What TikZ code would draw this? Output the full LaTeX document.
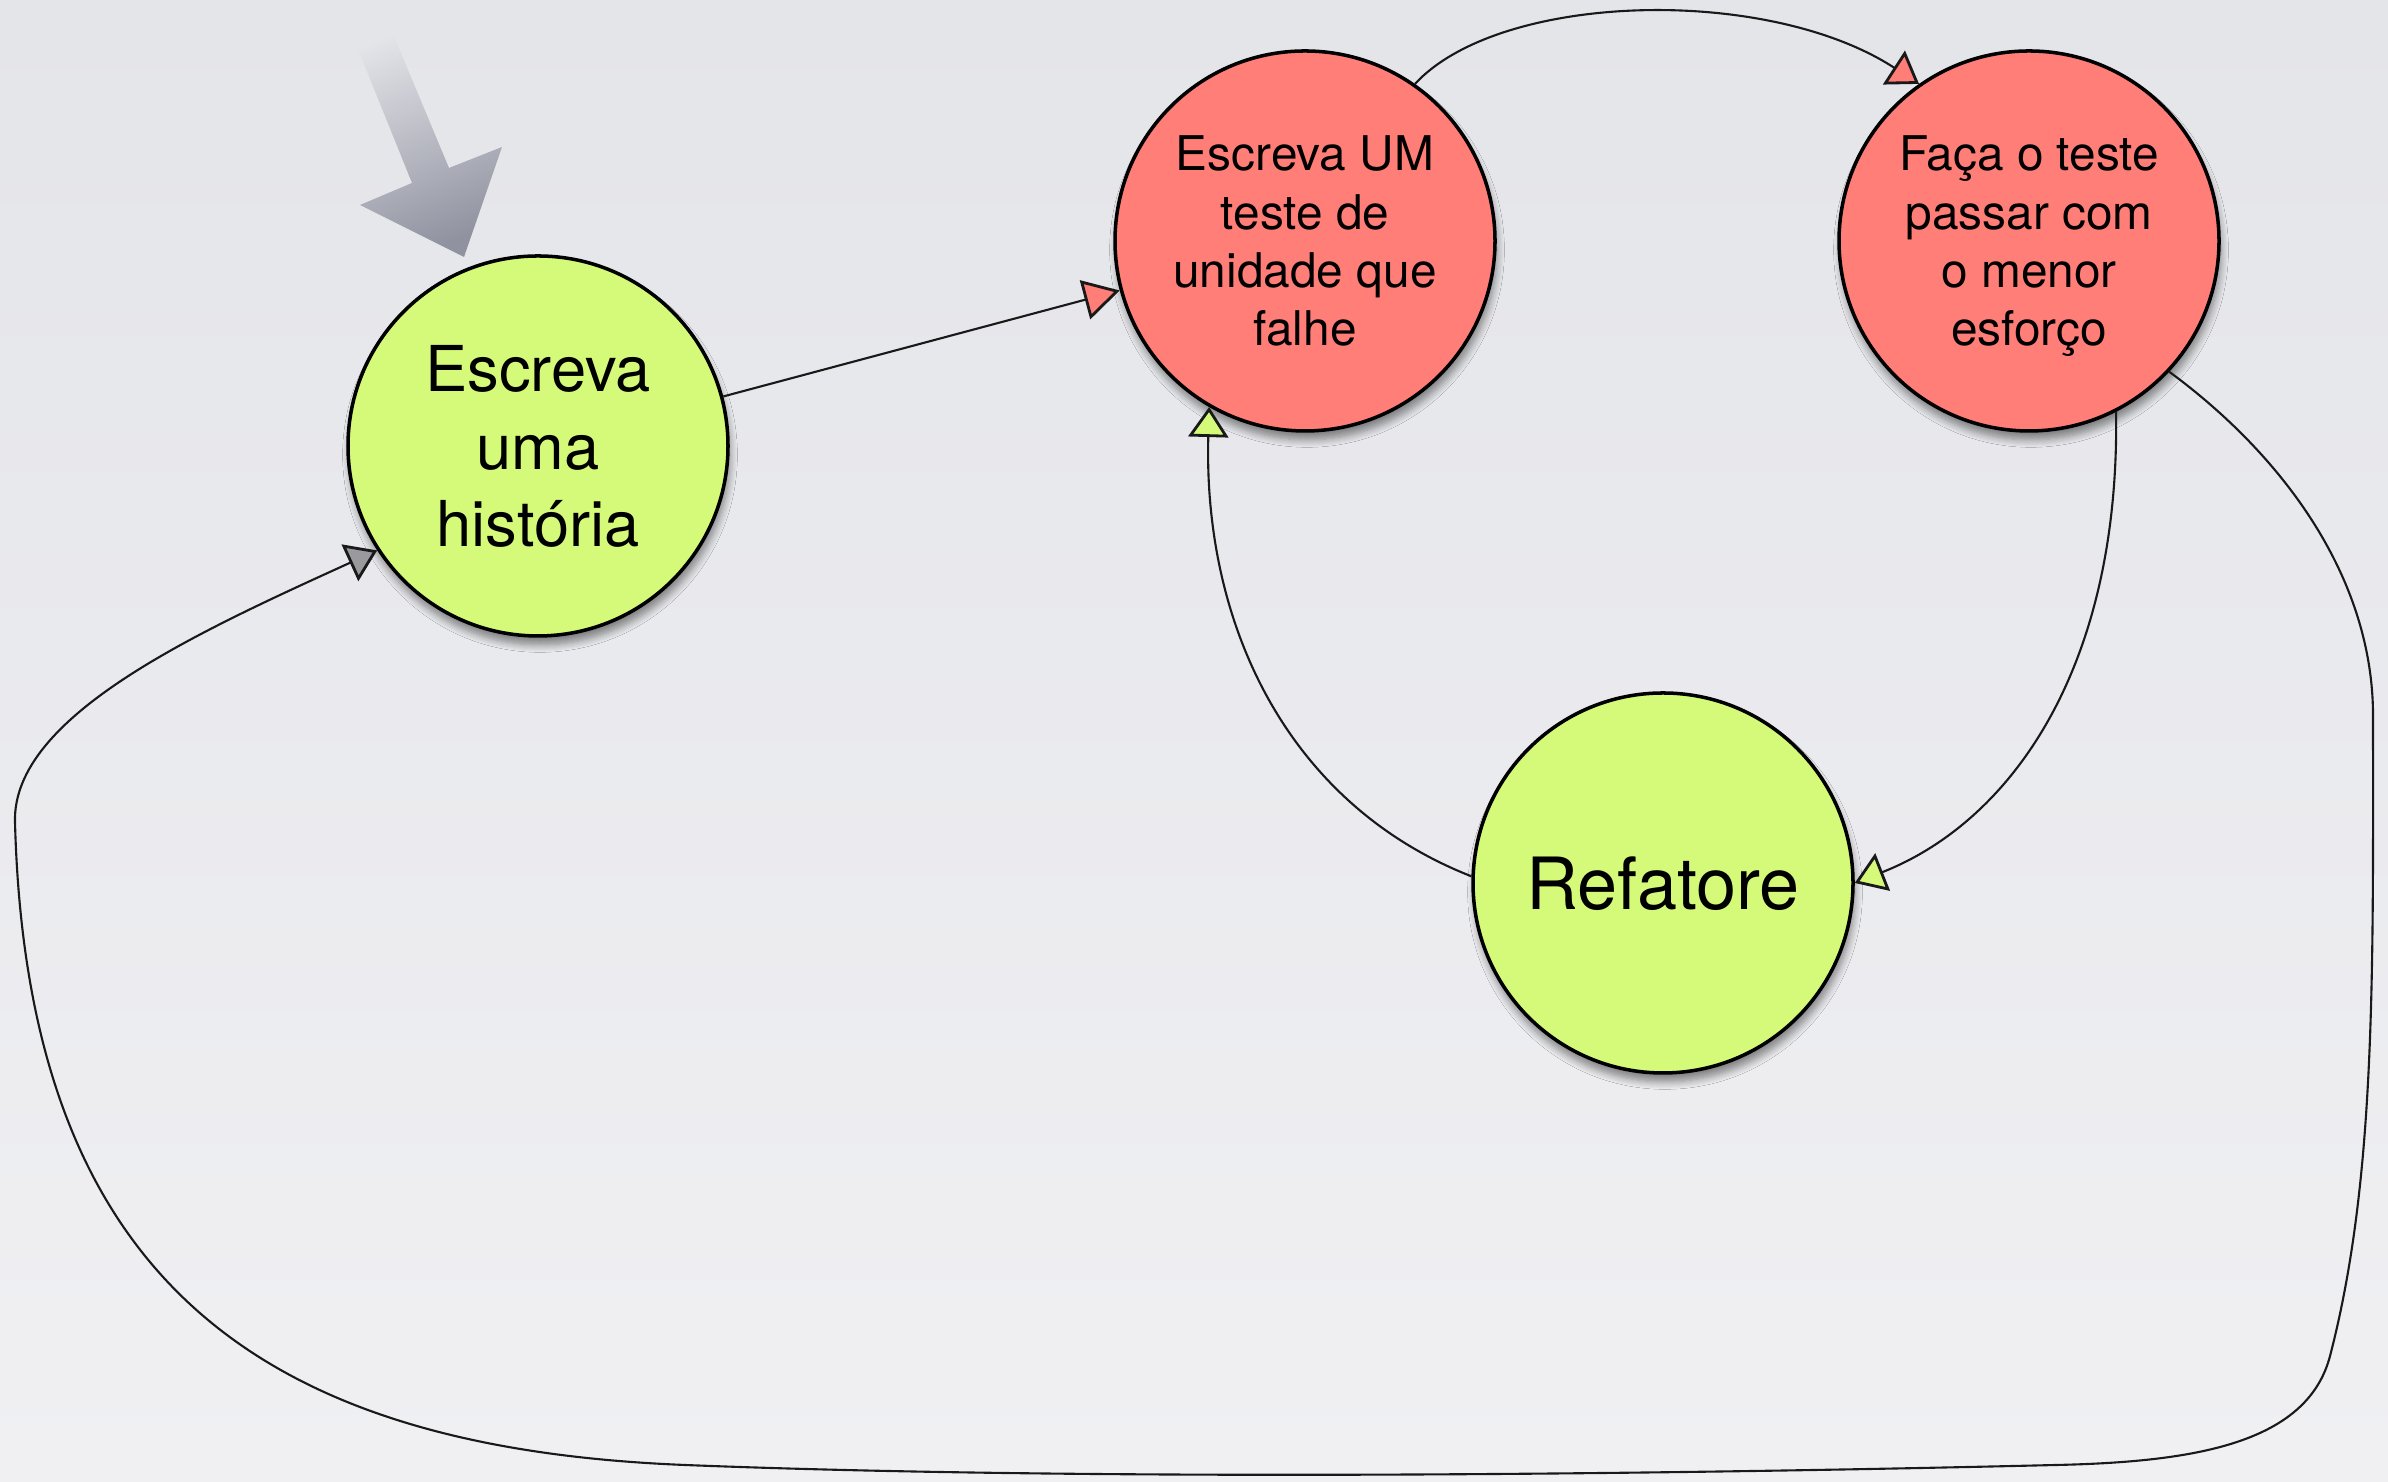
\documentclass[tikz,border=0pt]{standalone}
\usepackage{fontspec}
\setmainfont{TeX Gyre Heros}
\usetikzlibrary{arrows.meta,shadows.blur}
\definecolor{verde}{HTML}{D5FA7A}
\definecolor{vermelho}{HTML}{FF7E78}
\definecolor{cinza}{HTML}{9A9A9E}
\definecolor{fundoA}{HTML}{E4E5E9}
\definecolor{fundoB}{HTML}{F0F0F3}
\definecolor{setaA}{HTML}{E4E5E9}
\definecolor{setaB}{HTML}{9092A0}
\begin{document}
\begin{tikzpicture}[
    estado/.style={circle, draw=black, line width=1pt, minimum size=3.8cm, inner sep=0pt, align=center, text depth=0pt,
      blur shadow={shadow xshift=0.02cm, shadow yshift=-0.09cm, shadow blur steps=8, shadow opacity=45}},
    grande/.style={font=\fontsize{18}{22}\selectfont},
    pequeno/.style={font=\fontsize{13.6}{16.6}\selectfont},
    ligacao/.style={line width=0.6pt, draw=black!90},
    ponta/.style={-{Triangle[length=3mm, width=4mm, fill=#1, line width=0.8pt]}}
  ]
  \shade[top color=fundoA, bottom color=fundoB] (0,0) rectangle (23.88,14.82);
  \useasboundingbox (0,0) rectangle (23.88,14.82);
  % seta de entrada
  \shade[top color=setaA, bottom color=setaB, shading angle=22.5]
    (3.45,14.65) -- (3.88,14.60) -- (4.49,13.14) -- (5.02,13.35)
    -- (4.64,12.25) -- (3.60,12.77) -- (4.12,12.99) -- cycle;
  \draw
    (5.38,10.36) node[estado, fill=verde, grande] (0){Escreva\\uma\\história}
    (13.05,12.41) node[estado, fill=vermelho, pequeno] (1){Escreva UM\\teste de\\unidade que\\falhe}
    (20.29,12.41) node[estado, fill=vermelho, pequeno] (2){Faça o teste\\passar com\\o menor\\esforço}
    (16.63,5.99) node[estado, fill=verde, font=\fontsize{20.5}{24}\selectfont] (3){Refatore};
  \begin{scope}[ligacao]
    \draw[-{Triangle[length=3.6mm, width=4mm, fill=vermelho, line width=0.8pt]}] (0) -- (1);
    \draw[ponta=vermelho] (1.55) .. controls (15.00,14.90) and (17.67,14.97) .. (2.125);
    \draw[ponta=verde] (2.-63) .. controls (21.20,8.12) and (20.10,6.60) .. (3.east);
    \draw[ponta=verde] (3.178) .. controls (12.87,6.78) and (12.03,8.58) .. (1.-120);
    % volta grande
    \draw[ponta=cinza] (2.-43)
      .. controls (22.85,10.25) and (23.73,9.03) .. (23.73,7.66)
      .. controls (23.73,5.07) and (23.76,3.03) .. (23.30,1.26)
      .. controls (23.07,0.38) and (21.93,0.20) .. (20.56,0.17)
      .. controls (15.99,0.06) and (10.66,0.02) .. (6.85,0.17)
      .. controls (2.59,0.34) and (0.27,2.03) .. (0.15,6.60)
      .. controls (0.12,7.66) and (1.98,8.50) .. (0.213);
  \end{scope}
\end{tikzpicture}
\end{document}
